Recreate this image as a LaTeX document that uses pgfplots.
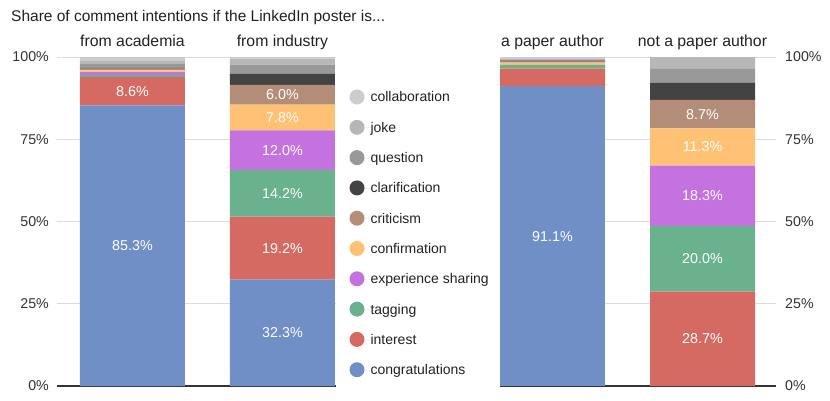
\documentclass[border=0pt]{standalone}
\usepackage{pgfplots}
\pgfplotsset{compat=1.18}
\usepackage{fontspec}
\setmainfont{Liberation Sans}
\definecolor{cCong}{HTML}{708FC7}
\definecolor{cInt}{HTML}{D56A62}
\definecolor{cTag}{HTML}{6AB18E}
\definecolor{cExp}{HTML}{C572E1}
\definecolor{cConf}{HTML}{FFC174}
\definecolor{cCrit}{HTML}{B48D79}
\definecolor{cClar}{HTML}{434343}
\definecolor{cQue}{HTML}{999999}
\definecolor{cJoke}{HTML}{B7B7B7}
\definecolor{cColl}{HTML}{CCCCCC}
\definecolor{cGrid}{HTML}{DCDCDC}
\definecolor{cBase}{HTML}{333333}
\definecolor{cText}{HTML}{333333}
\definecolor{cTitle}{HTML}{212121}
\pgfplotsset{
  mybars/.style={
    scale only axis, height=329pt,
    ybar stacked, bar width=105pt,
    ymin=0, ymax=100, clip=false,
    axis line style={draw=none}, major tick length=0pt,
    ytick={0,25,50,75,100},
    yticklabels={0\%,25\%,50\%,75\%,100\%},
    ymajorgrids, grid style={color=cGrid, line width=1pt},
    xticklabel pos=right,
    xticklabel style={anchor=base, inner sep=0pt, yshift=11pt, font=\fontsize{15.8}{18}\selectfont, text=cTitle},
    yticklabel style={inner sep=0pt, font=\fontsize{14.2}{16}\selectfont, text=cText},
  },
  mylabels/.style={
    scale only axis, height=329pt, hide axis, ymin=0, ymax=100, clip=false,
  },
  seglab/.style={draw=none, mark=none, nodes near coords, point meta=explicit symbolic,
    nodes near coords style={anchor=center, inner sep=0pt, text=white, font=\fontsize{14.3}{16}\selectfont}},
}
\begin{document}
\begin{tikzpicture}
\path[use as bounding box] (0,0) rectangle (830pt,400pt);
\node[anchor=base west, inner sep=0pt, text=cTitle, font=\fontsize{15.5}{18}\selectfont] at (11pt,378pt) {Share of comment intentions if the LinkedIn poster is...};
% left chart
\begin{axis}[mybars, at={(57pt,14pt)}, anchor=south west, width=279pt,
  xmin=0, xmax=1.86, xtick={0.5033,1.5033}, xticklabels={from academia,from industry},
  yticklabel style={anchor=east, xshift=-8pt},
  reverse legend,
  legend image code/.code={\path (0pt,0pt) -- (21pt,0pt); \fill[#1] (7.5pt,0.6pt) circle (7.5pt);},
  legend style={at={(1.0484,0.9012)}, anchor=north west, draw=none, fill=none, inner sep=0pt, outer sep=0pt,
    row sep=15.3pt, nodes={inner sep=0pt, text=cTitle, font=\fontsize{14}{16}\selectfont}},
  legend cell align=left,
]
\addplot[fill=cCong, draw=none] coordinates {(0.5033,85.3) (1.5033,32.3)};
\addplot[fill=cInt, draw=none] coordinates {(0.5033,8.6) (1.5033,19.2)};
\addplot[fill=cTag, draw=none] coordinates {(0.5033,0.7) (1.5033,14.2)};
\addplot[fill=cExp, draw=none] coordinates {(0.5033,0.8) (1.5033,12.0)};
\addplot[fill=cConf, draw=none] coordinates {(0.5033,0.5) (1.5033,7.8)};
\addplot[fill=cCrit, draw=none] coordinates {(0.5033,0.6) (1.5033,6.0)};
\addplot[fill=cClar, draw=none] coordinates {(0.5033,0.3) (1.5033,3.4)};
\addplot[fill=cQue, draw=none] coordinates {(0.5033,1.0) (1.5033,2.8)};
\addplot[fill=cJoke, draw=none] coordinates {(0.5033,1.0) (1.5033,1.8)};
\addplot[fill=cColl, draw=none] coordinates {(0.5033,1.2) (1.5033,0.5)};
\legend{congratulations,interest,tagging,experience sharing,confirmation,criticism,clarification,question,joke,collaboration}
\draw[cBase, line width=1.3pt] (rel axis cs:0,0) -- (rel axis cs:1,0);
\end{axis}
\begin{axis}[mylabels, at={(57pt,14pt)}, anchor=south west, width=279pt, xmin=0, xmax=1.86]
\addplot[seglab] coordinates {
 (0.5033,42.65)[85.3\%] (0.5033,89.6)[8.6\%]
 (1.5033,16.15)[32.3\%] (1.5033,41.9)[19.2\%] (1.5033,58.6)[14.2\%]
 (1.5033,71.7)[12.0\%] (1.5033,81.6)[7.8\%] (1.5033,88.5)[6.0\%]
};
\end{axis}
% right chart
\begin{axis}[mybars, at={(500pt,14pt)}, anchor=south west, width=276pt,
  xmin=0, xmax=1.84, xtick={0.35,1.35}, xticklabels={a paper author,not a paper author},
  yticklabel pos=right,
  yticklabel style={anchor=west, xshift=9pt},
]
\addplot[fill=cCong, draw=none] coordinates {(0.35,91.1) (1.35,0)};
\addplot[fill=cInt, draw=none] coordinates {(0.35,5.4) (1.35,28.7)};
\addplot[fill=cTag, draw=none] coordinates {(0.35,1.0) (1.35,20.0)};
\addplot[fill=cExp, draw=none] coordinates {(0.35,0.1) (1.35,18.3)};
\addplot[fill=cConf, draw=none] coordinates {(0.35,0.7) (1.35,11.3)};
\addplot[fill=cCrit, draw=none] coordinates {(0.35,0.3) (1.35,8.7)};
\addplot[fill=cClar, draw=none] coordinates {(0.35,0.2) (1.35,5.1)};
\addplot[fill=cQue, draw=none] coordinates {(0.35,0.5) (1.35,4.3)};
\addplot[fill=cJoke, draw=none] coordinates {(0.35,0.3) (1.35,3.6)};
\addplot[fill=cColl, draw=none] coordinates {(0.35,0.4) (1.35,0)};
\draw[cBase, line width=1.3pt] (rel axis cs:0,0) -- (rel axis cs:1,0);
\end{axis}
\begin{axis}[mylabels, at={(500pt,14pt)}, anchor=south west, width=276pt, xmin=0, xmax=1.84]
\addplot[seglab] coordinates {
 (0.35,45.55)[91.1\%]
 (1.35,14.35)[28.7\%] (1.35,38.7)[20.0\%] (1.35,57.85)[18.3\%]
 (1.35,72.65)[11.3\%] (1.35,82.65)[8.7\%]
};
\end{axis}
\end{tikzpicture}
\end{document}
